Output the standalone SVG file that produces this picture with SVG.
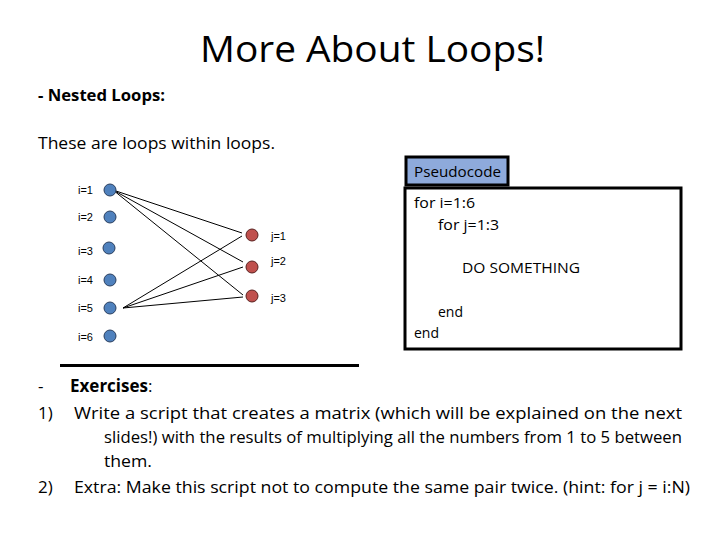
<svg xmlns="http://www.w3.org/2000/svg" width="720" height="540" viewBox="0 0 720 540">
<style>
.t{font-family:"Open Sans","Liberation Sans",sans-serif;fill:#000}
.s{font-family:"Liberation Sans",Arial,sans-serif;font-size:11px;fill:#000}
.b{fill:#4f81bd;stroke:#2a3f5f;stroke-width:1}
.r{fill:#c0504d;stroke:#5a2220;stroke-width:1}
.c{stroke:#000;stroke-width:1;fill:none}
</style>
<rect width="720" height="540" fill="#fff"/>
<text class="t" x="200" y="62" font-size="36" textLength="345" lengthAdjust="spacingAndGlyphs">More About Loops!</text>
<text class="t" x="38" y="101" font-size="16" font-weight="bold" textLength="127" lengthAdjust="spacingAndGlyphs">- Nested Loops:</text>
<text class="t" x="38" y="149" font-size="16" textLength="237" lengthAdjust="spacingAndGlyphs">These are loops within loops.</text>
<g id="connectors">
<line class="c" x1="113" y1="190" x2="242" y2="233"/>
<line class="c" x1="113" y1="190" x2="243" y2="262"/>
<line class="c" x1="113" y1="190" x2="243" y2="295"/>
<line class="c" x1="123" y1="308" x2="242" y2="236"/>
<line class="c" x1="123" y1="308" x2="243" y2="267"/>
<line class="c" x1="123" y1="308" x2="243" y2="297"/>
</g>
<g id="i1"><text class="s" x="78" y="194">i=1</text><circle class="b" cx="110" cy="190" r="6"/></g>
<g id="i2"><text class="s" x="78" y="221">i=2</text><circle class="b" cx="110" cy="217" r="6"/></g>
<g id="i3"><text class="s" x="78" y="255">i=3</text><circle class="b" cx="109" cy="248" r="6"/></g>
<g id="i4"><text class="s" x="78" y="284">i=4</text><circle class="b" cx="110" cy="280" r="6"/></g>
<g id="i5"><text class="s" x="78" y="312">i=5</text><circle class="b" cx="110" cy="308" r="6"/></g>
<g id="i6"><text class="s" x="78" y="341">i=6</text><circle class="b" cx="110" cy="336" r="6"/></g>
<g id="j1"><text class="s" x="271" y="240">j=1</text><circle class="r" cx="252" cy="235" r="6"/></g>
<g id="j2"><text class="s" x="271" y="265">j=2</text><circle class="r" cx="252" cy="267" r="6"/></g>
<g id="j3"><text class="s" x="271" y="302">j=3</text><circle class="r" cx="252" cy="296" r="6"/></g>
<rect x="60" y="364" width="299" height="3" fill="#000"/>
<g id="pseudocode">
<rect x="406" y="157" width="102" height="28" fill="#8eaadb" stroke="#000" stroke-width="3"/>
<text class="t" x="414" y="177" font-size="14" textLength="87" lengthAdjust="spacingAndGlyphs">Pseudocode</text>
<rect x="405" y="188" width="276" height="161" fill="#fff" stroke="#000" stroke-width="3"/>
<text class="t" x="414" y="208" font-size="14" textLength="61" lengthAdjust="spacingAndGlyphs">for i=1:6</text>
<text class="t" x="438" y="230" font-size="14" textLength="61" lengthAdjust="spacingAndGlyphs">for j=1:3</text>
<text class="t" x="462" y="273" font-size="14" textLength="118" lengthAdjust="spacingAndGlyphs">DO SOMETHING</text>
<text class="t" x="438" y="317" font-size="14">end</text>
<text class="t" x="414" y="338" font-size="14">end</text>
</g>
<g id="exercises" font-size="17">
<text class="t" x="38" y="392" font-size="17">-</text><text class="t" x="70" y="392" font-size="17"><tspan font-weight="bold">Exercises</tspan>:</text>
<text class="t" x="38" y="419" font-size="17">1)</text><text class="t" x="74" y="419" font-size="17" textLength="608" lengthAdjust="spacingAndGlyphs">Write a script that creates a matrix (which will be explained on the next</text>
<text class="t" x="104" y="443" font-size="17" textLength="578" lengthAdjust="spacingAndGlyphs">slides!) with the results of multiplying all the numbers from 1 to 5 between</text>
<text class="t" x="104" y="467" font-size="17" textLength="48" lengthAdjust="spacingAndGlyphs">them.</text>
<text class="t" x="38" y="493" font-size="17">2)</text><text class="t" x="74" y="493" font-size="17" textLength="616" lengthAdjust="spacingAndGlyphs">Extra: Make this script not to compute the same pair twice. (hint: for j = i:N)</text>
</g>
</svg>
